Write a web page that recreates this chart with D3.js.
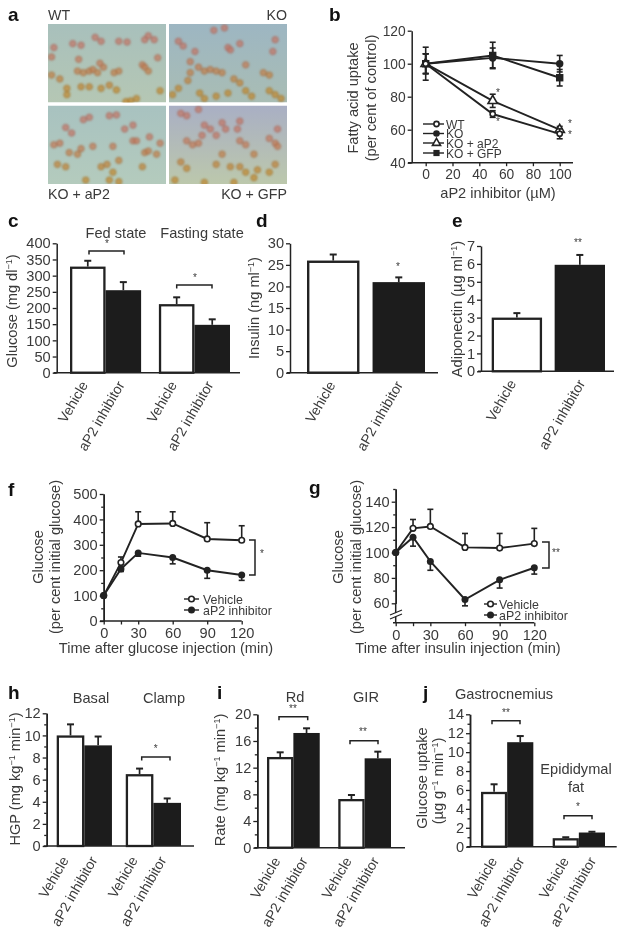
<!DOCTYPE html>
<html><head><meta charset="utf-8">
<script src="https://cdn.jsdelivr.net/npm/d3@7"></script>
<style>
html,body{margin:0;padding:0;background:#fff}
svg{display:block;filter:blur(0.3px)}
text{font-family:"Liberation Sans",Arial,sans-serif;fill:#3a3a3a}
</style></head><body>
<svg id="c" width="623" height="938"></svg>
<script>
// ---------- data ----------
const conditions = ['Vehicle','aP2 inhibitor'];
const cGroups=['Fed state','Fasting state'], cValues=[328,255,212,148], cTops=[346,280,233,165];
const dGroups=['all'], dValues=[26,21], dTops=[27.4,22.1];
const eGroups=['all'], eValues=[3,5.95], eTops=[3.25,6.5];
const hGroups=['Basal','Clamp'], hValues=[10,9.1,6.5,3.9], hTops=[11,9.9,7,4.3];
const iGroups=['Rd','GIR'], iValues=[13.6,17.2,7.3,13.4], iTops=[14.3,17.9,7.9,14.4];
const jGroups=['Gastrocnemius','Epididymal fat'], jValues=[5.8,11.05,0.9,1.5], jTops=[6.6,11.7,1.0,1.58];

const bDoses=[0,50,100];
const bWT=[100,69.5,57.5], bWTerr=[6,2,3];
const bKO=[100,103.5,100], bKOerr=[6,6,5];
const bAP2=[100,77.5,60], bAP2err=[6,4,2];
const bGFP=[100,105,91.5], bGFPerr=[10,8,5];

const times=[0,15,30,60,90,120];
const fVehicle=[100,230,382,384,323,318], fVehicleTop=[100,252,430,430,387,375];
const fInhibitor=[100,205,268,250,200,181], fInhibitorLow=[100,195,255,225,168,160];
const gVehicle=[100,119,120.5,104,103.5,107], gVehicleTop=[100,126,134,115,115,119];
const gInhibitor=[100,112,93,63,78.5,88], gInhibitorLow=[100,105,86,58,72,83];

// cell positions seen in the micrographs (per cent of panel width, height)
const cellsWT=[[40,17],[45,22],[60,22],[67,23],[82,20],[85,15],[90,20],[5,30],[3,42],[21,25],[28,27],[25,60],[30,62],[35,60],[38,58],[42,62],[47,55],[56,62],[60,60],[80,52],[82,55],[85,60],[10,70],[16,82],[16,90],[28,80],[35,80],[45,82],[52,78],[58,84],[70,98],[66,99],[75,95],[95,85],[93,43],[3,65],[26,45],[44,50]];
const cellsKO=[[8,22],[12,28],[50,30],[52,33],[38,8],[47,5],[60,25],[90,20],[88,35],[22,35],[18,48],[25,55],[30,60],[35,58],[40,60],[45,62],[18,62],[16,72],[55,70],[60,75],[80,62],[85,65],[8,82],[26,88],[30,95],[40,92],[50,88],[65,85],[70,92],[85,85],[90,90],[95,95],[3,90],[65,52]];
const cellsAP2=[[30,18],[35,15],[52,13],[58,12],[72,25],[65,30],[15,28],[20,35],[5,50],[10,48],[18,60],[25,62],[28,55],[38,52],[55,52],[72,45],[75,45],[82,60],[85,58],[92,62],[95,48],[45,78],[50,75],[55,85],[60,70],[80,78],[8,75],[15,78],[32,95],[52,95],[60,97],[86,40]];
const cellsGFP=[[10,10],[15,13],[25,5],[45,22],[48,30],[30,25],[35,30],[40,38],[28,38],[25,48],[20,50],[15,45],[60,20],[58,30],[92,30],[85,42],[90,48],[60,45],[65,50],[45,62],[52,78],[40,75],[60,78],[65,85],[72,62],[75,82],[85,85],[72,92],[90,75],[10,72],[15,80],[5,95],[30,98],[55,98],[92,52]];

// ---------- helpers ----------
const svg=d3.select('#c');
const INK='#222', TXT=14.6;
const defs=svg.append('defs');
defs.append('filter').attr('id','soft').append('feGaussianBlur').attr('stdDeviation',0.8);

function label(x,y,str,o={}){
  const t=svg.append('text').attr('x',x).attr('y',y)
    .attr('font-size',o.size||TXT).attr('text-anchor',o.anchor||'middle');
  if(o.bold)t.attr('font-weight','bold').style('fill','#111');
  if(o.rotate!=null)t.attr('transform',`rotate(${o.rotate} ${x} ${y})`);
  const size=o.size||TXT;
  let pending=0;
  str.split(/(\^\S+?\^)/).forEach(p=>{
    if(!p)return;
    if(p[0]==='^'){
      t.append('tspan').attr('dy',-5).attr('font-size',size*0.62).text(p.slice(1,-1));
      pending=5;
    } else {
      const s=t.append('tspan').text(p);
      if(pending){s.attr('dy',pending);pending=0;}
    }
  });
  return t;
}
function star(x,y,n=1){label(x,y+3.5,'*'.repeat(n),{size:10});}
function bracket(x0,x1,y){
  svg.append('path').attr('d',d3.line()([[x0,y+3.5],[x0,y],[x1,y],[x1,y+3.5]]))
    .attr('fill','none').attr('stroke',INK).attr('stroke-width',1.5);
}
function sideBracket(x0,x1,y0,y1){
  svg.append('path').attr('d',d3.line()([[x0,y0],[x1,y0],[x1,y1],[x0,y1]]))
    .attr('fill','none').attr('stroke',INK).attr('stroke-width',1.5);
}
function styleAxis(g,size=TXT){
  g.selectAll('path.domain').attr('stroke',INK).attr('stroke-width',1.5);
  g.selectAll('.tick line').attr('stroke',INK).attr('stroke-width',1.3);
  g.selectAll('.tick text').attr('font-size',size).style('fill','#3a3a3a');
}
function leftAxis(x,y,major,minor,size){
  if(minor){
    const m=svg.append('g').attr('transform',`translate(${x},0)`)
      .call(d3.axisLeft(y).tickValues(minor).tickSize(2.5).tickSizeOuter(0).tickFormat(''));
    styleAxis(m);
  }
  const g=svg.append('g').attr('transform',`translate(${x},0)`)
    .call(d3.axisLeft(y).tickValues(major).tickSize(4).tickPadding(2).tickSizeOuter(0).tickFormat(d3.format('d')));
  styleAxis(g,size);
  return g;
}
function barPanel(o){
  const y=d3.scaleLinear().domain(o.domain).range(o.yRange);
  const outer=d3.scaleBand().domain(o.groups).range(o.xRange).paddingInner(o.groupPad||0).paddingOuter(0);
  const inner=d3.scaleBand().domain(conditions).range([0,outer.bandwidth()]).paddingInner(o.innerPad||0).paddingOuter(0);
  const rows=o.values.map((v,i)=>({v,top:o.tops[i],g:o.groups[Math.floor(i/2)],c:conditions[i%2]}));
  const base=y(0), bw=inner.bandwidth(), sw=o.sw||2.3;
  rows.forEach(r=>{
    const x=outer(r.g)+inner(r.c), cx=x+bw/2;
    svg.append('line').attr('x1',cx).attr('x2',cx).attr('y1',y(r.v)).attr('y2',y(r.top)).attr('stroke',INK).attr('stroke-width',1.7);
    svg.append('line').attr('x1',cx-3.5).attr('x2',cx+3.5).attr('y1',y(r.top)).attr('y2',y(r.top)).attr('stroke',INK).attr('stroke-width',2);
    const white=r.c==='Vehicle';
    svg.append('rect').attr('x',x+(white?sw/2:0)).attr('y',y(r.v)+(white?sw/2:0))
      .attr('width',bw-(white?sw:0)).attr('height',base-y(r.v)-(white?sw/2:0))
      .attr('fill',white?'#fff':'#1c1c1c').attr('stroke',white?INK:'none').attr('stroke-width',sw);
    const dx=(r.c==='Vehicle'?(o.labelDxV==null?-8:o.labelDxV):(o.labelDxA==null?-7:o.labelDxA));
    label(cx+dx,base+(o.labelDy||7),r.c,{anchor:'end',rotate:-60,size:14}).attr('dominant-baseline','hanging');
  });
  leftAxis(o.axisX,y,o.major,o.minor);
  svg.append('line').attr('x1',o.axisX-3).attr('x2',o.xEnd).attr('y1',base).attr('y2',base).attr('stroke',INK).attr('stroke-width',1.6);
}
function marker(g,type,x,y,r){
  const white='#fff';
  if(type==='open')g.append('circle').attr('cx',x).attr('cy',y).attr('r',r).attr('fill',white).attr('stroke',INK).attr('stroke-width',1.6);
  if(type==='filled')g.append('circle').attr('cx',x).attr('cy',y).attr('r',r+0.7).attr('fill',INK);
  if(type==='tri')g.append('path').attr('d',d3.symbol(d3.symbolTriangle,r*r*4.2)()).attr('transform',`translate(${x},${y})`).attr('fill',white).attr('stroke',INK).attr('stroke-width',1.6);
  if(type==='square')g.append('rect').attr('x',x-r-0.5).attr('y',y-r-0.5).attr('width',2*r+1).attr('height',2*r+1).attr('fill',INK);
}
function series(x,y,xs,ys,lows,highs,type,r=3){
  const g=svg.append('g');
  xs.forEach((d,i)=>{
    if(lows[i]===highs[i])return;
    const px=x(d);
    g.append('line').attr('x1',px).attr('x2',px).attr('y1',y(lows[i])).attr('y2',y(highs[i])).attr('stroke',INK).attr('stroke-width',1.6);
    [lows[i],highs[i]].forEach(e=>{ if(e!==ys[i]) g.append('line').attr('x1',px-3).attr('x2',px+3).attr('y1',y(e)).attr('y2',y(e)).attr('stroke',INK).attr('stroke-width',1.6);});
  });
  g.append('path').attr('d',d3.line().x((d,i)=>x(xs[i])).y(d=>y(d))(ys)).attr('fill','none').attr('stroke',INK).attr('stroke-width',1.9);
  xs.forEach((d,i)=>marker(g,type,x(d),y(ys[i]),r));
}
function legendRow(x0,x1,yy,type,text,tx,r=2.8,size=12.4){
  svg.append('line').attr('x1',x0).attr('x2',x1).attr('y1',yy).attr('y2',yy).attr('stroke',INK).attr('stroke-width',1.4);
  marker(svg,type,(x0+x1)/2+(x1-x0>16?3:0),yy,r);
  label(tx,yy+4.5,text,{anchor:'start',size});
}
function bottomAxis(x,yPos,ticks,labels,size){
  const g=svg.append('g').attr('transform',`translate(0,${yPos})`)
    .call(d3.axisBottom(x).tickValues(ticks).tickSize(3.5).tickPadding(3).tickSizeOuter(0)
      .tickFormat(d=>labels.includes(d)?d:''));
  g.selectAll('path.domain').remove();
  styleAxis(g,size);
}

// ---------- panel letters ----------
const letters=[['a',8,21],['b',329,21],['c',8,227],['d',256,227],['e',452,227],['f',8,496],['g',309,494],['h',8,699],['i',217,699],['j',423,699]];
letters.forEach(d=>label(d[1],d[2],d[0],{anchor:'start',bold:true,size:19}));

// ---------- a: micrographs ----------
const uScale=d3.scaleLinear().domain([0,100]).range([0,118]);
const vScale=d3.scaleLinear().domain([0,100]).range([0,78.5]);
const tint=d3.scaleLinear().domain([35,85]).range(['#c4786a','#c08a34']).clamp(true);
function micrograph(id,x,y,bgTop,bgBottom,cells){
  const gr=defs.append('linearGradient').attr('id',id).attr('x1',0).attr('y1',0).attr('x2',0).attr('y2',1);
  gr.append('stop').attr('offset','0%').attr('stop-color',bgTop);
  gr.append('stop').attr('offset','100%').attr('stop-color',bgBottom);
  const clip=defs.append('clipPath').attr('id',id+'c');
  clip.append('rect').attr('width',118).attr('height',78.5);
  const g=svg.append('g').attr('transform',`translate(${x},${y})`).attr('clip-path',`url(#${id}c)`);
  g.append('rect').attr('width',118).attr('height',78.5).attr('fill',`url(#${id})`);
  const c=g.append('g').attr('filter','url(#soft)');
  cells.forEach(d=>{
    c.append('circle').attr('cx',uScale(d[0])).attr('cy',vScale(d[1])).attr('r',3.1)
      .attr('fill',tint(d[1])).attr('fill-opacity',.72).attr('stroke',d3.color(tint(d[1])).darker(.5)).attr('stroke-opacity',.85).attr('stroke-width',1);
  });
}
micrograph('mA',48,24,'#a8c0bc','#b5c7b4',cellsWT);
micrograph('mB',169,24,'#9db6c2','#a9bdb4',cellsKO);
micrograph('mC',48,105.5,'#a8c2c0','#b4cbbd',cellsAP2);
micrograph('mD',169,105.5,'#a9afc4','#bcc8ac',cellsGFP);
label(48,20,'WT',{anchor:'start',size:14.2});
label(287,20,'KO',{anchor:'end',size:14.2});
label(48,199,'KO + aP2',{anchor:'start',size:14.2});
label(287,199,'KO + GFP',{anchor:'end',size:14.2});

// ---------- b ----------
{
  const x=d3.scaleLinear().domain([0,100]).range([425.7,559.7]);
  const y=d3.scaleLinear().domain([40,120]).range([162.7,30.7]);
  leftAxis(411.7,y,[40,60,80,100,120],null,13.8);
  svg.append('line').attr('x1',408).attr('x2',573).attr('y1',y(40)).attr('y2',y(40)).attr('stroke',INK).attr('stroke-width',1.5);
  bottomAxis(x,162.7,[0,20,40,60,80,100],[0,20,40,60,80,100],13.8);
  const pm=(v,e,s)=>v.map((d,i)=>d+s*e[i]);
  series(x,y,bDoses,bGFP,pm(bGFP,bGFPerr,-1),pm(bGFP,bGFPerr,1),'square',3.2);
  series(x,y,bDoses,bKO,pm(bKO,bKOerr,-1),pm(bKO,bKOerr,1),'filled',3);
  series(x,y,bDoses,bAP2,pm(bAP2,bAP2err,-1),pm(bAP2,bAP2err,1),'tri',3);
  series(x,y,bDoses,bWT,pm(bWT,bWTerr,-1),pm(bWT,bWTerr,1),'open',2.6);
  legendRow(423,444,124,'open','WT',446,2.6,12);
  legendRow(423,444,133.5,'filled','KO',446,2.6,12);
  legendRow(423,444,143,'tri','KO + aP2',446,2.6,12);
  legendRow(423,444,153,'square','KO + GFP',446,2.6,12);
  [[498,92],[498,121],[570,123],[570,134]].forEach(s=>star(s[0],s[1]));
  label(358,98,'Fatty acid uptake',{rotate:-90});
  label(376,98,'(per cent of control)',{rotate:-90});
  label(498,198,'aP2 inhibitor (\u00b5M)');
}

// ---------- c ----------
barPanel({domain:[0,400],yRange:[372.7,243.3],groups:cGroups,values:cValues,tops:cTops,xRange:[70,230],groupPad:0.2,
  axisX:56.7,xEnd:240,major:d3.range(0,401,50)});
label(17,311,'Glucose (mg dl^\u22121^)',{rotate:-90});
label(116,238,'Fed state');label(202,238,'Fasting state');
bracket(89,124,251);star(107,243);bracket(176.7,212,285);star(195,277);

// ---------- d ----------
barPanel({domain:[0,30],yRange:[372.7,243.3],groups:dGroups,values:dValues,tops:dTops,xRange:[307,425],innerPad:0.2,sw:2.4,
  axisX:290,xEnd:438,major:d3.range(0,31,5),labelDxV:-6,labelDxA:-4});
label(259,308,'Insulin (ng ml^\u22121^)',{rotate:-90});
star(398,266);

// ---------- e ----------
barPanel({domain:[0,7],yRange:[371.3,246],groups:eGroups,values:eValues,tops:eTops,xRange:[491.7,605],innerPad:0.2,
  axisX:481,xEnd:614,major:d3.range(0,8,1),labelDxV:-9,labelDxA:-3});
label(462,309,'Adiponectin (\u00b5g ml^\u22121^)',{rotate:-90});
star(578,242,2);

// ---------- f ----------
{
  const x=d3.scaleLinear().domain([0,120]).range([103.7,241.7]);
  const y=d3.scaleLinear().domain([0,500]).range([621,494]);
  leftAxis(103.7,y,d3.range(0,501,100),d3.range(50,500,100));
  svg.append('line').attr('x1',100).attr('x2',241.7).attr('y1',621).attr('y2',621).attr('stroke',INK).attr('stroke-width',1.6);
  bottomAxis(x,621,[0,15,30,60,90,120],[0,30,60,90,120]);
  series(x,y,times,fVehicle,fVehicle,fVehicleTop,'open',2.8);
  series(x,y,times,fInhibitor,fInhibitorLow,fInhibitor,'filled',2.8);
  sideBracket(249,255,540,575);star(262,553);
  legendRow(184,199,599,'open','Vehicle',203);
  legendRow(184,199,610,'filled','aP2 inhibitor',203);
  label(43,557,'Glucose',{rotate:-90});
  label(60,557,'(per cent initial glucose)',{rotate:-90});
  label(166,653,'Time after glucose injection (min)');
}

// ---------- g ----------
{
  const x=d3.scaleLinear().domain([0,120]).range([395.7,534.3]);
  const y=d3.scaleLinear().domain([60,140]).range([603.3,501.7]);
  const axisY=d3.scaleLinear().domain([60,150]).range([603.3,489]);
  leftAxis(395.7,axisY,[60,80,100,120,140],[70,90,110,130,150]);
  svg.append('line').attr('x1',395.7).attr('x2',395.7).attr('y1',603).attr('y2',622.7).attr('stroke',INK).attr('stroke-width',1.5);
  svg.append('line').attr('x1',393).attr('x2',534.3).attr('y1',622.7).attr('y2',622.7).attr('stroke',INK).attr('stroke-width',1.6);
  bottomAxis(x,622.7,[0,15,30,60,90,120],[0,30,60,90,120]);
  svg.append('path').attr('d','M388,616.5L403,609.5L403,613L388,620Z').attr('fill','#fff').attr('stroke','none');
  svg.append('path').attr('d','M390,615L402,610M390,619L402,614').attr('stroke',INK).attr('stroke-width',1.2).attr('fill','none');
  series(x,y,times,gVehicle,gVehicle,gVehicleTop,'open',2.8);
  series(x,y,times,gInhibitor,gInhibitorLow,gInhibitor,'filled',2.8);
  sideBracket(542,549,542,568);star(556,552,2);
  legendRow(484,497,604,'open','Vehicle',499);
  legendRow(484,497,615,'filled','aP2 inhibitor',499);
  label(343,557,'Glucose',{rotate:-90});
  label(361,557,'(per cent initial glucose)',{rotate:-90});
  label(458,653,'Time after insulin injection (min)');
}

// ---------- h ----------
barPanel({domain:[0,12],yRange:[846,713.3],groups:hGroups,values:hValues,tops:hTops,xRange:[56.7,181],groupPad:0.2,
  axisX:46.7,xEnd:194,major:d3.range(0,13,2),minor:d3.range(1,12,2),labelDxV:-10,labelDxA:-9,labelDy:9});
label(20,779,'HGP (mg kg^\u22121^ min^\u22121^)',{rotate:-90});
label(91,703,'Basal');label(164,703,'Clamp');
bracket(141.7,170,757);star(155.7,748);

// ---------- i ----------
barPanel({domain:[0,20],yRange:[847.7,714.3],groups:iGroups,values:iValues,tops:iTops,xRange:[267,391],groupPad:0.26,
  axisX:257.3,xEnd:405,major:d3.range(0,21,4),minor:d3.range(2,20,4),labelDy:8});
label(225,780,'Rate (mg kg^\u22121^ min^\u22121^)',{rotate:-90});
label(295,702,'Rd');label(366,702,'GIR');
bracket(279,307.7,716.7);star(293,708,2);bracket(350,378,740.7);star(363,731,2);

// ---------- j ----------
barPanel({domain:[0,14],yRange:[846.7,714.3],groups:jGroups,values:jValues,tops:jTops,xRange:[481,605],groupPad:0.27,
  axisX:470,xEnd:616.7,major:d3.range(0,15,2),minor:d3.range(1,14,2),labelDy:9,labelDxV:-5,labelDxA:-4});
label(427,778,'Glucose uptake',{rotate:-90});
label(443,781,'(\u00b5g g^\u22121^ min^\u22121^)',{rotate:-90});
label(504,699,'Gastrocnemius');
label(576,774,'Epididymal');label(576,792,'fat');
bracket(492,520,720.7);star(506,712,2);bracket(564,592,815.7);star(578,806);
</script>
</body></html>
